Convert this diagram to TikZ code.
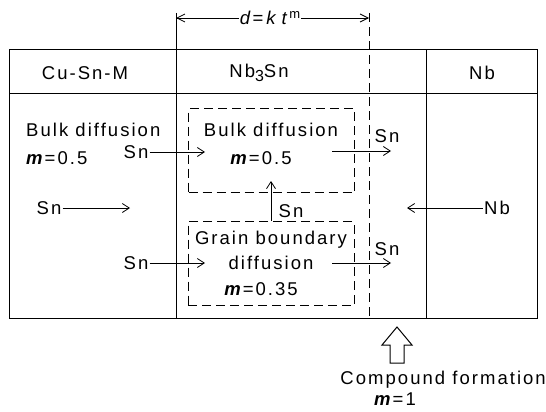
\documentclass[tikz,border=0pt]{standalone}
\usepackage{fontspec}
\setmainfont{Liberation Sans}[LetterSpace=11]
\usetikzlibrary{arrows.meta,positioning}

\tikzset{
  lbl/.style={font=\fontsize{18.5}{20}\selectfont, inner sep=1pt},
  flow/.style={-{Straight Barb[length=7pt,width=9pt]}, line width=0.8pt},
  dim/.style={-{Straight Barb[length=8pt,width=8pt]}, line width=0.8pt},
  wall/.style={line width=1pt},
  dbox/.style={draw, line width=1pt, dash pattern=on 9pt off 5pt, minimum width=166pt, minimum height=84pt}
}

\begin{document}
\begin{tikzpicture}[x=1pt, y=-1pt]
    \useasboundingbox (0,0) rectangle (546,412);

    % frame and columns
    \draw[wall] (9,50) rectangle (537,318);
    \draw[wall] (9,93) -- (537,93);
    \draw[wall] (176,13) -- (176,318);
    \draw[wall] (426,50) -- (426,318);
    \draw[wall, dash pattern=on 9pt off 5pt] (369,13) -- (369,318);

    % growth law
    \node[lbl, fill=white] (law) at (270,18) {\textit{d}=\,\textit{k}\,\textit{t}\raisebox{6pt}{\fontsize{13}{13}\selectfont m}};
    \coordinate (lawL) at (176,18);
    \coordinate (lawR) at (369,18);
    \draw[dim] (law) -- (lawL);
    \draw[dim] (law) -- (lawR);

    % headers
    \node[lbl] (cusnm) at (85,73) {Cu-Sn-M};
    \node[lbl] (nbsn) at (259,73) {Nb\raisebox{-4pt}{\fontsize{16}{16}\selectfont 3}Sn};
    \node[lbl] (nb) at (482,73) {Nb};

    % matrix side
    \node[lbl, anchor=west] (bulkL) at (25,130) {Bulk diffusion};
    \node[lbl, anchor=west] (mL) at (25,158) {\textbf{\textit{m}}=0.5};
    \node[lbl] (snA) at (49,208) {Sn};
    \coordinate (snAend) at (130,208);
    \draw[flow] (snA) -- (snAend);

    % bulk diffusion box
    \node[dbox] (bulkbox) at (271.5,150.5) {};
    \node[lbl] (bulkI) at (271,130) {Bulk diffusion};
    \node[lbl] (mI) at (261,158) {\textbf{\textit{m}}=0.5};
    \node[lbl] (snB) at (136,152) {Sn};
    \coordinate (snBend) at (205,152);
    \draw[flow] (snB) -- (snBend);
    \coordinate (outBs) at (332,151);
    \coordinate (outBe) at (391,151);
    \draw[flow] (outBs) -- (outBe);
    \node[lbl] (snBo) at (387,136) {Sn};

    % grain boundary box
    \node[dbox] (gbbox) at (271,263.5) {};
    \node[lbl] (gb1) at (271,240) {Grain boundary};
    \node[lbl] (gb2) at (271,263) {diffusion};
    \node[lbl] (mG) at (261,289) {\textbf{\textit{m}}=0.35};
    \node[lbl] (snC) at (136,263) {Sn};
    \coordinate (snCend) at (205,263);
    \draw[flow] (snC) -- (snCend);
    \coordinate (outCs) at (332,263);
    \coordinate (outCe) at (391,263);
    \draw[flow] (outCs) -- (outCe);
    \node[lbl] (snCo) at (387,249) {Sn};

    % grain boundary to bulk
    \coordinate (upend) at (271,181);
    \draw[flow] (gbbox.north) -- (upend);
    \node[lbl] (snUp) at (291,211) {Sn};

    % niobium side
    \node[lbl] (nbR) at (497,208) {Nb};
    \coordinate (nbend) at (407,208);
    \draw[flow] (nbR) -- (nbend);

    % compound formation
    \draw[line width=1pt] (397,327) -- (412,345) -- (404,345) -- (404,363)
        -- (390,363) -- (390,345) -- (382,345) -- cycle;
    \node[lbl, anchor=east, inner sep=0pt] (cf) at (546,380) {Compound formation};
    \node[lbl] (mC) at (395,399) {\textbf{\textit{m}}=1};
\end{tikzpicture}
\end{document}
